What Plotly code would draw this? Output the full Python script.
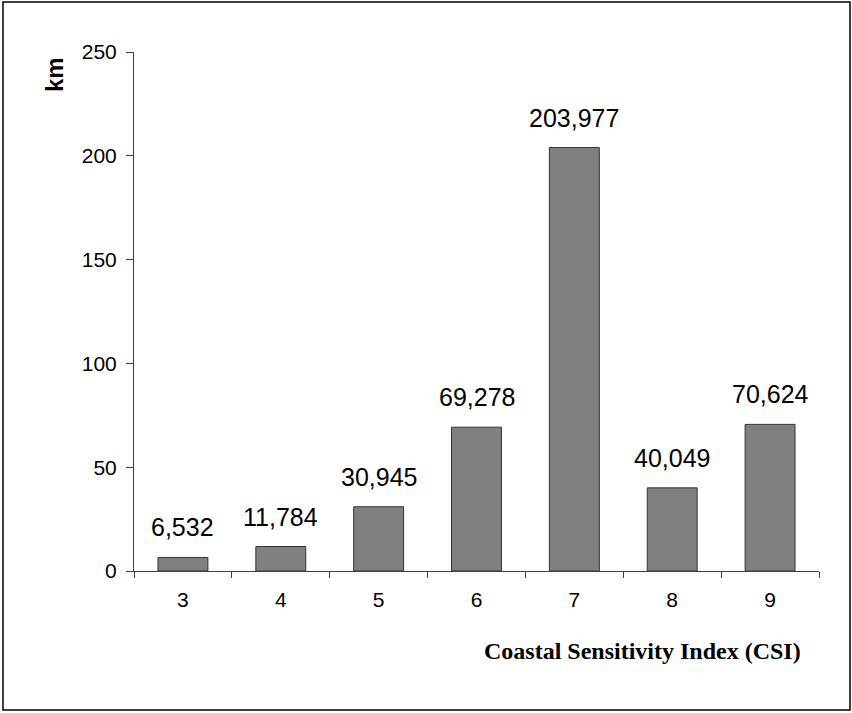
import plotly.graph_objects as go

categories = ["3", "4", "5", "6", "7", "8", "9"]
values_km = [6.532, 11.784, 30.945, 69.278, 203.977, 40.049, 70.624]
y_ticks = [0, 50, 100, 150, 200, 250]
y_title = "km"
x_title = "Coastal Sensitivity Index (CSI)"

W, H = 852, 713
L, R, T, B = 134, 33, 52, 142
pw, ph = W - L - R, H - T - B


def px_x(x):
    return (x - L) / pw


def px_y(y):
    return 1 - (y - T) / ph


fig = go.Figure()
fig.add_trace(go.Bar(
    x=categories, y=values_km,
    marker=dict(color="#808080", line=dict(color="#333333", width=1)),
    hoverinfo="skip",
))

for i, v in enumerate(values_km):
    fig.add_annotation(
        x=i, y=v, xref="x", yref="y",
        text=f"{v:.3f}".replace(".", ","),
        showarrow=False, yanchor="bottom", yshift=14,
        font=dict(family="Arial, Liberation Sans, sans-serif", size=25, color="black"),
    )

fig.add_annotation(
    xref="paper", yref="paper",
    x=px_x(803), y=px_y(651),
    xanchor="right", yanchor="middle",
    text=f"<b>{x_title}</b>", showarrow=False,
    font=dict(family="Times New Roman, Liberation Serif, serif", size=24, color="black"),
)

fig.add_annotation(
    xref="paper", yref="paper",
    x=px_x(55), y=px_y(75),
    xanchor="center", yanchor="middle", textangle=-90,
    text=f"<b>{y_title}</b>", showarrow=False,
    font=dict(family="Arial, Liberation Sans, sans-serif", size=24, color="black"),
)

# outer frame
fig.add_shape(
    type="rect", xref="paper", yref="paper",
    x0=px_x(3), x1=px_x(850),
    y0=px_y(710), y1=px_y(2),
    line=dict(color="black", width=1.5), fillcolor="rgba(0,0,0,0)",
)

fig.update_layout(
    width=W, height=H,
    margin=dict(l=L, r=R, t=T, b=B, pad=0),
    paper_bgcolor="white", plot_bgcolor="white",
    bargap=0.49, showlegend=False,
    font=dict(family="Arial, Liberation Sans, sans-serif", color="black"),
)
fig.update_xaxes(
    type="category", range=[-0.5, len(categories) - 0.5],
    showline=True, linecolor="#404040", linewidth=1,
    ticks="outside", ticklen=6, tickcolor="#404040",
    tickson="boundaries", showgrid=False,
    tickfont=dict(size=21), ticklabelstandoff=10,
)
fig.update_yaxes(
    range=[0, 250], tickvals=y_ticks, showline=True, linecolor="#404040", linewidth=1,
    ticks="outside", ticklen=7, tickcolor="#404040", showgrid=False, zeroline=False,
    tickfont=dict(size=21), ticklabelstandoff=5,
)

fig.write_html("out.html", config={"displayModeBar": False},
               post_script="document.body.style.margin='0';")
